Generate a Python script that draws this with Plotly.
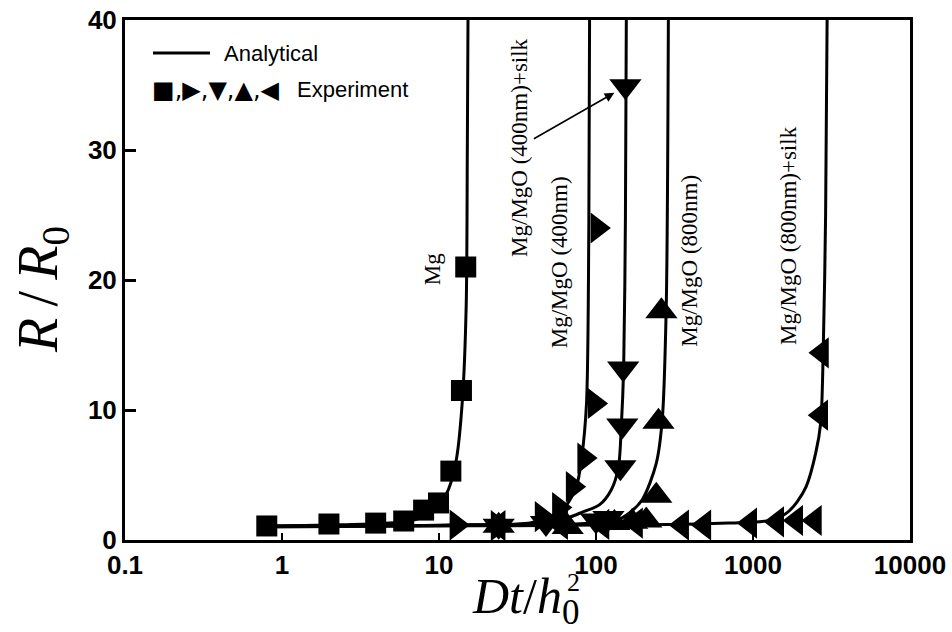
import plotly.graph_objects as go
import numpy as np

# ---- data ----
# Analytical curves
mg_line_x = [0.8, 2, 4, 6, 8, 9.5, 10.5, 11.5, 12.9, 14.1, 14.9, 15.15, 15.3]
mg_line_y = [1.05, 1.15, 1.25, 1.4, 1.8, 2.4, 3.0, 3.9, 6.2, 10.8, 18, 30, 40]

r400_line_x = [0.8, 4, 8, 12, 20, 30, 38, 49, 63, 75, 81, 87, 90, 91]
r400_line_y = [1.05, 1.1, 1.12, 1.15, 1.18, 1.22, 1.3, 1.7, 2.5, 4.1, 6.3, 10.5, 24, 40]

d400s_line_x = [0.8, 4, 10, 20, 40, 55, 68, 82, 105, 125, 139, 145, 150, 154, 156]
d400s_line_y = [1.05, 1.1, 1.12, 1.15, 1.25, 1.4, 1.75, 2.15, 2.7, 3.85, 5.6, 8.8, 13.2, 25, 40]

u800_line_x = [0.8, 4, 10, 20, 40, 70, 100, 120, 135, 156, 197, 242, 264, 280, 289]
u800_line_y = [1.05, 1.1, 1.12, 1.15, 1.18, 1.22, 1.3, 1.38, 1.5, 1.9, 3.1, 5.9, 9.2, 17.8, 40]

l800s_line_x = [0.8, 4, 10, 24, 100, 300, 700, 1100, 1400, 1650, 1900, 2180, 2510, 2700, 2800, 2900, 2965]
l800s_line_y = [1.0, 1.05, 1.08, 1.1, 1.15, 1.2, 1.3, 1.4, 1.6, 2.1, 2.9, 4.1, 6.7, 9.0, 14.4, 25, 40]

# Experimental points
mg_x = [0.8, 1.99, 3.95, 5.96, 7.98, 9.93, 11.9, 13.9, 14.8]
mg_y = [1.08, 1.23, 1.3, 1.46, 2.3, 2.85, 5.3, 11.5, 21.0]

r400_x = [12.9, 23.6, 45, 58, 71, 84, 98, 102]
r400_y = [1.15, 1.1, 1.8, 2.5, 4.1, 6.3, 10.5, 24]

d400s_x = [24, 48, 100, 120, 143, 147, 149, 154]
d400s_y = [1.1, 1.3, 1.5, 1.7, 5.6, 8.8, 13.2, 34.9]

u800_x = [24, 66, 131, 170, 209, 242, 250, 261]
u800_y = [1.1, 1.0, 1.3, 1.4, 1.5, 3.4, 9.1, 17.6]

l800s_x = [24, 60, 110, 180, 354, 490, 960, 1427, 1885, 2480, 2720, 2750]
l800s_y = [1.1, 1.2, 1.2, 1.3, 1.15, 1.15, 1.3, 1.4, 1.5, 1.5, 9.6, 14.4]

x_ticks = [0.1, 1, 10, 100, 1000, 10000]
x_tick_labels = ["0.1", "1", "10", "100", "1000", "10000"]
y_ticks = [0, 10, 20, 30, 40]

labels = [
    ("Mg", 10 ** 0.959, 20.8),
    ("Mg/MgO (400nm)+silk", 10 ** 1.513, 30.2),
    ("Mg/MgO (400nm)", 10 ** 1.767, 21.4),
    ("Mg/MgO (800nm)", 10 ** 2.594, 21.5),
    ("Mg/MgO (800nm)+silk", 10 ** 3.23, 23.4),
]

fig = go.Figure()

for lx, ly in [(mg_line_x, mg_line_y), (r400_line_x, r400_line_y),
               (d400s_line_x, d400s_line_y), (u800_line_x, u800_line_y),
               (l800s_line_x, l800s_line_y)]:
    fig.add_trace(go.Scatter(x=lx, y=ly, mode="lines",
                             line=dict(color="black", width=3, shape="spline", smoothing=0.8),
                             showlegend=False, hoverinfo="skip"))

for px, py, sym, sz in [(l800s_x, l800s_y, "triangle-left", 27),
                        (u800_x, u800_y, "triangle-up", 28),
                        (d400s_x, d400s_y, "triangle-down", 28),
                        (r400_x, r400_y, "triangle-right", 27),
                        (mg_x, mg_y, "square", 21)]:
    fig.add_trace(go.Scatter(x=px, y=py, mode="markers",
                             marker=dict(symbol=sym, size=sz, color="black",
                                         line=dict(width=0)),
                             showlegend=False))


def px_x(p):
    return (p - 125) / 785


def px_y(p):
    return (540 - p) / 520


ann = []
for text, ax_, ay_ in labels:
    ann.append(dict(x=np.log10(ax_), y=ay_, xref="x", yref="y", text=text,
                    textangle=-90, showarrow=False,
                    font=dict(family="Liberation Serif", size=23, color="black"),
                    xanchor="center", yanchor="middle"))

# arrow pointing to the (400nm)+silk point
ann.append(dict(x=2.117, y=34.4, ax=1.595, ay=30.8, xref="x", yref="y",
                axref="x", ayref="y", text="", showarrow=True,
                arrowhead=2, arrowsize=1.2, arrowwidth=1.6, arrowcolor="black"))

# legend texts
ann.append(dict(x=px_x(222), y=px_y(53), xref="paper", yref="paper",
                text="Analytical", showarrow=False, xanchor="left", yanchor="middle",
                font=dict(family="Liberation Sans", size=22, color="black")))
ann.append(dict(x=px_x(150), y=px_y(90), xref="paper", yref="paper",
                text="■,▶,▼,▲,◀", showarrow=False, xanchor="left", yanchor="middle",
                font=dict(family="DejaVu Sans", size=24, color="black")))
ann.append(dict(x=px_x(295), y=px_y(90), xref="paper", yref="paper",
                text="Experiment", showarrow=False, xanchor="left", yanchor="middle",
                font=dict(family="Liberation Sans", size=22, color="black")))

# axis titles
ann.append(dict(x=px_x(42), y=px_y(290), xref="paper", yref="paper",
                text="<i>R</i>\u2009/\u2009<i>R</i><sub>0</sub>", textangle=-90, showarrow=False,
                xanchor="center", yanchor="middle",
                font=dict(family="Liberation Serif", size=56, color="black")))
ann.append(dict(x=px_x(470), y=px_y(600), xref="paper", yref="paper",
                text="<i>Dt</i>/<i>h</i><sub>0</sub>", showarrow=False,
                xanchor="left", yanchor="middle",
                font=dict(family="Liberation Serif", size=50, color="black")))
ann.append(dict(x=px_x(573), y=px_y(582), xref="paper", yref="paper",
                text="2", showarrow=False,
                xanchor="center", yanchor="middle",
                font=dict(family="Liberation Serif", size=26, color="black")))

fig.update_layout(
    width=952, height=632,
    margin=dict(l=125, r=42, t=20, b=92, autoexpand=False),
    paper_bgcolor="white", plot_bgcolor="white",
    annotations=ann,
    shapes=[dict(type="line", xref="paper", yref="paper",
                 x0=px_x(153), x1=px_x(210),
                 y0=px_y(53), y1=px_y(53),
                 line=dict(color="black", width=3))],
    showlegend=False,
)

fig.update_xaxes(type="log", range=[-1, 4], tickvals=x_ticks, ticktext=x_tick_labels,
                 ticks="inside", ticklen=7, tickwidth=2, tickcolor="black",
                 showline=True, linewidth=3, linecolor="black", mirror=True,
                 showgrid=False, zeroline=False, automargin=False,
                 tickfont=dict(family="Liberation Sans", size=26, color="black", weight="bold"))
fig.update_yaxes(range=[0, 40], tickvals=y_ticks,
                 ticks="inside", ticklen=11, tickwidth=3, tickcolor="black",
                 showline=True, linewidth=3, linecolor="black", mirror=True,
                 showgrid=False, zeroline=False, automargin=False,
                 tickfont=dict(family="Liberation Sans", size=26, color="black", weight="bold"))

fig.write_html("out.html")
